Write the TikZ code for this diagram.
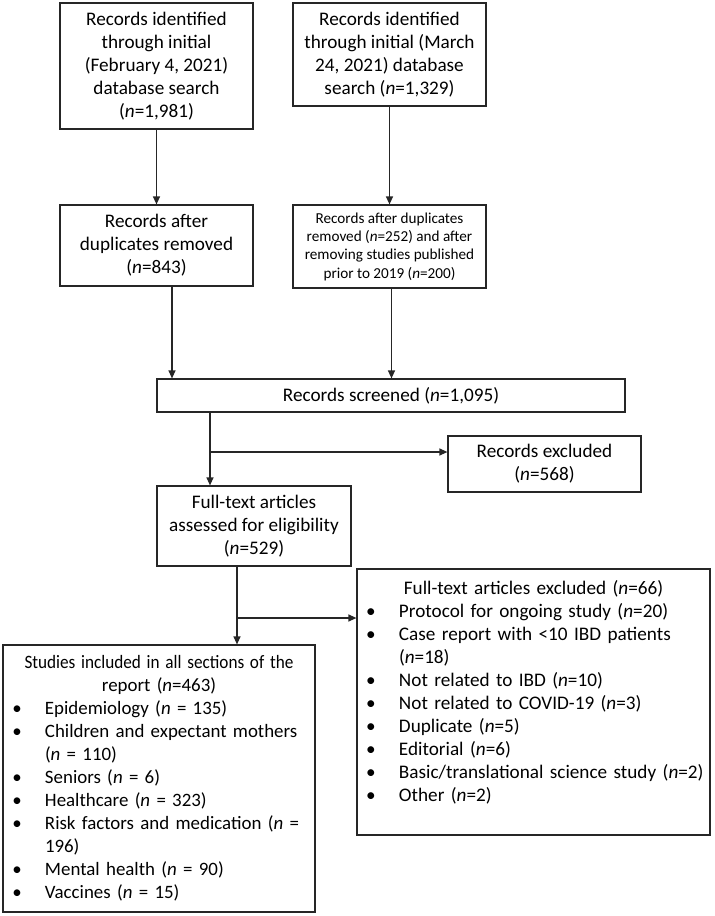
\documentclass[tikz,border=0pt]{standalone}
\usepackage{fontspec}
\setmainfont{Carlito}
\usepackage{graphicx}
\usetikzlibrary{arrows.meta}
\newcommand{\bl}[1]{\makebox[\linewidth][l]{\makebox[28pt]{\textbullet}\hspace{14pt}#1}}
\newcommand{\cl}[1]{\makebox[\linewidth][l]{\hspace{42pt}#1}}
\newcommand{\nn}{\textit{n}}
\begin{document}
\begin{tikzpicture}[x=1pt,y=-1pt,
  box/.style={draw=black!85, line width=1.2pt, align=center, inner sep=0pt,
    font=\fontsize{19.2}{23}\selectfont},
  listbox/.style={box, font=\fontsize{18.9}{23}\selectfont},
  smallbox/.style={box, font=\fontsize{15.2}{18.3}\selectfont},
  arr/.style={line width=1.2pt, draw=black!85, -{Triangle[length=8pt,width=7pt]}}]
\useasboundingbox (0,0) rectangle (715,916);
\node[box, minimum width=193pt, minimum height=126pt] (A) at (156.5,66)
  {Records identified\\ through initial\\ (February 4, 2021)\\ database search\\ (\nn=1,981)};
\node[box, minimum width=193pt, minimum height=103pt] (B) at (389.5,54.5)
  {Records identified\\ through initial (March\\ 24, 2021) database\\ search (\nn=1,329)};
\node[box, minimum width=193pt, minimum height=81pt] (C) at (156.5,245.5)
  {Records after\\ duplicates removed\\ (\nn=843)};
\node[smallbox, minimum width=193pt, minimum height=83pt] (D) at (389.5,246.5)
  {Records after duplicates\\ removed (\nn=252) and after\\ removing studies published\\ prior to 2019 (\nn=200)};
\node[box, minimum width=468pt, minimum height=33pt] (S) at (391,395.5)
  {Records screened (\nn=1,095)};
\node[box, minimum width=193pt, minimum height=56pt] (E) at (544.5,464)
  {Records excluded\\ (\nn=568)};
\node[box, minimum width=194pt, minimum height=80pt] (F) at (254,526)
  {Full-text articles\\ assessed for eligibility\\ (\nn=529)};
\node[listbox, text width=312pt, minimum height=267pt] (St) at (159,778.5)
  {\scalebox{0.91}[1]{Studies included in all sections of the}\\ report (\nn=463)\\
   \bl{Epidemiology (\nn{} = 135)}\\
   \bl{Children and expectant mothers}\\
   \cl{(\nn{} = 110)}\\
   \bl{Seniors (\nn{} = 6)}\\
   \bl{Healthcare (\nn{} = 323)}\\
   \bl{Risk factors and medication (\nn{} =}\\
   \cl{196)}\\
   \bl{Mental health (\nn{} = 90)}\\
   \bl{Vaccines (\nn{} = 15)}};
\node[box, text width=353pt, minimum height=266pt] (X) at (533.5,702)
  {Full-text articles excluded (\nn=66)\\
   \bl{Protocol for ongoing study (\nn=20)}\\
   \bl{Case report with <10 IBD patients}\\
   \cl{(\nn=18)}\\
   \bl{Not related to IBD (\nn=10)}\\
   \bl{Not related to COVID-19 (\nn=3)}\\
   \bl{Duplicate (\nn=5)}\\
   \bl{Editorial (\nn=6)}\\
   \bl{Basic/translational science study (\nn=2)}\\
   \bl{Other (\nn=2)}\\
   \mbox{}};
\coordinate (c1) at (172,300);
\coordinate (c2) at (391.5,300);
\coordinate (j1) at (210,452);
\coordinate (j2) at (237,618);
\draw[arr] (A.south) -- (C.north);
\draw[arr] (B.south) -- (D.north);
\draw[arr] (c1 |- C.south) -- (c1 |- S.north);
\draw[arr] (c2 |- D.south) -- (c2 |- S.north);
\draw[arr] (j1 |- S.south) -- (j1 |- F.north);
\draw[arr] (j1) -- (j1 -| E.west);
\draw[arr] (j2 |- F.south) -- (j2 |- St.north);
\draw[arr] (j2) -- (j2 -| X.west);
\end{tikzpicture}
\end{document}
